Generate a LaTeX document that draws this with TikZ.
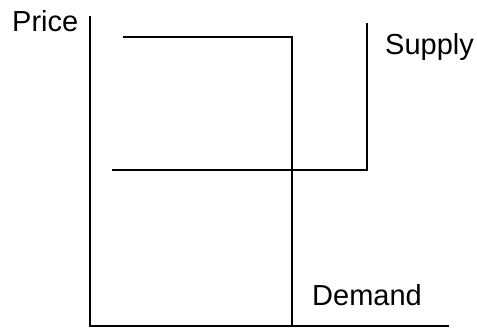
\documentclass[tikz,border=0pt]{standalone}
\usepackage{fontspec}
\setmainfont{Liberation Sans}
\begin{document}
\begin{tikzpicture}[x=1pt,y=-1pt,
  curve/.style={line width=1.6pt,line cap=rect},
  axis/.style={line width=1.6pt,line cap=rect},
  lbl/.style={inner sep=0pt,anchor=base west,font=\fontsize{29}{34}\selectfont}]
  \useasboundingbox (0,0) rectangle (477,329);
  % axes
  \coordinate (ytop) at (90,17);
  \coordinate (origin) at (90,326);
  \coordinate (xend) at (448,326);
  \draw[axis] (ytop) -- (origin) -- (xend);
  % demand curve
  \coordinate (d0) at (124,37);
  \coordinate (d1) at (292,37);
  \coordinate (d2) at (292,326);
  \draw[curve] (d0) -- (d1) -- (d2);
  % supply curve
  \coordinate (s0) at (113,170);
  \coordinate (s1) at (367,170);
  \coordinate (s2) at (367,24);
  \draw[curve] (s0) -- (s1) -- (s2);
  % labels
  \node[lbl] (price) at (12,32) {Price};
  \node[lbl] (supply) at (385,55) {Supply};
  \node[lbl] (demand) at (312,305) {Demand};
\end{tikzpicture}
\end{document}
